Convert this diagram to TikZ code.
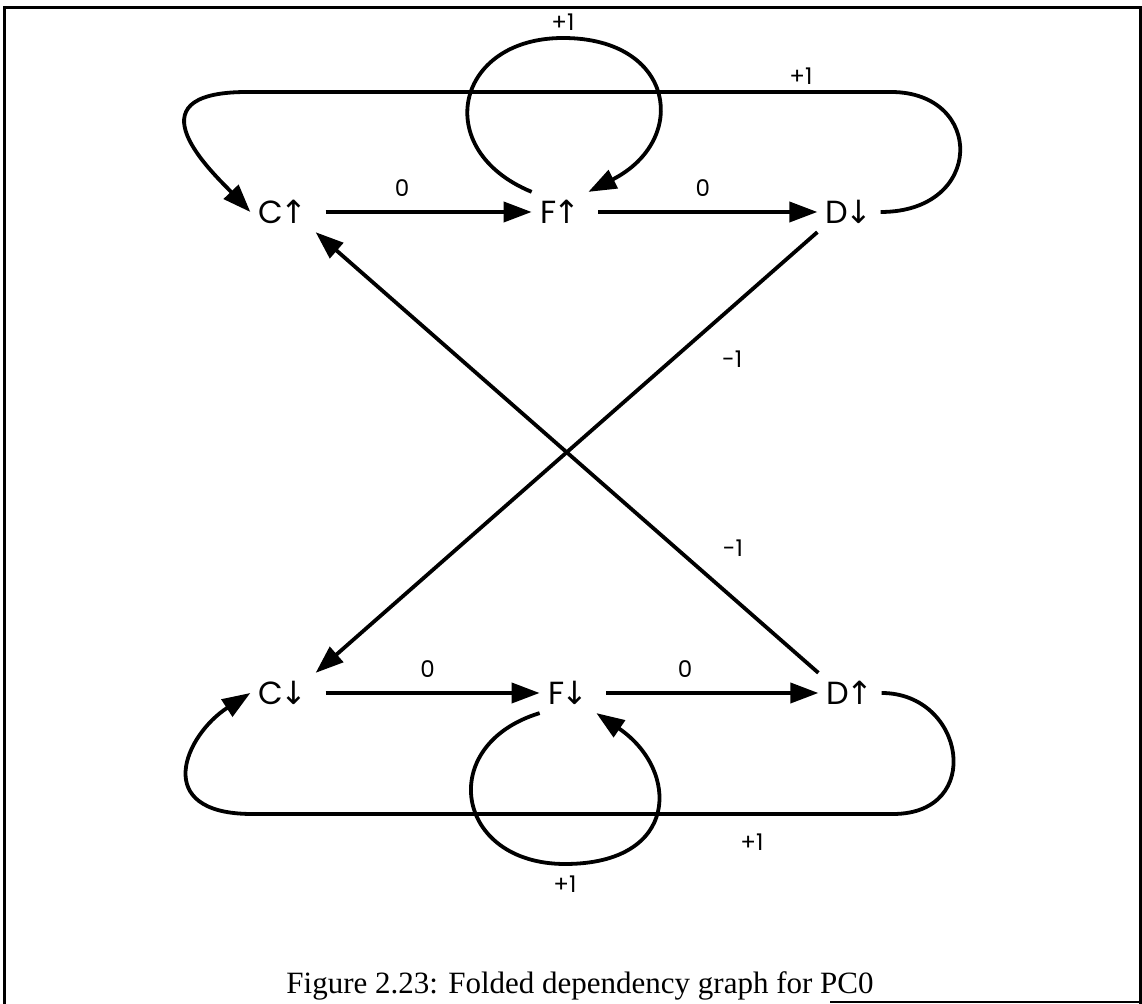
\documentclass[tikz,border=0pt]{standalone}
\usepackage{fontspec}
\setmainfont{Liberation Serif}
\newfontfamily\graphfont{Poppins}
\newfontfamily\arrowfont{DejaVu Sans}
\usepackage{tikz}
\usetikzlibrary{arrows.meta, positioning}
\newcommand{\uparr}{{\kern-1.5pt\arrowfont\char"2191}}
\newcommand{\dnarr}{{\kern-1.5pt\arrowfont\char"2193}}
\tikzset{
    vertex/.style={
        inner sep=4pt,
        font=\graphfont\fontsize{16}{19}\selectfont
    },
    weight/.style={
        inner sep=1pt,
        font=\graphfont\fontsize{11.5}{14}\selectfont
    },
    edge/.style={
        draw=black,
        line width=1.9pt,
        -{Triangle[length=14pt,width=10pt]}
    },
    frame/.style={
        draw=black,
        line width=1.5pt
    },
    caption/.style={
        font=\fontsize{15.5}{18}\selectfont
    }
}

\begin{document}
\begin{tikzpicture}[x=0.5pt, y=-0.5pt]
\useasboundingbox (0,0) rectangle (1142,1004);

% Upper row
\node[vertex] (Cu) at (283,212) {C\uparr};
\node[vertex] (Fu) at (560,212) {F\uparr};
\node[vertex] (Dd) at (849,212) {D\dnarr};

% Lower row
\node[vertex] (Cd) at (283,693) {C\dnarr};
\node[vertex] (Fd) at (568,693) {F\dnarr};
\node[vertex] (Du) at (850,693) {D\uparr};

% Straight edges
\draw[edge, shorten <=5pt] (Cu) -- node[weight, above=6pt, pos=0.4] {0} (Fu);
\draw[edge, shorten <=5pt] (Fu) -- node[weight, above=6pt, pos=0.5] {0} (Dd);
\draw[edge, shorten <=5pt] (Cd) -- node[weight, above=6pt, pos=0.5] {0} (Fd);
\draw[edge, shorten <=5pt] (Fd) -- node[weight, above=6pt, pos=0.4] {0} (Du);

% Crossing edges
\draw[edge] (Dd.south west) -- node[weight, pos=0.17, yshift=-26pt] {-1} (Cd.north east);
\draw[edge] (Du.north west) -- node[weight, pos=0.17, yshift=25pt] {-1} (Cu.south east);

% Self loops
\draw[edge] (Fu.north west) .. controls (430,150) and (455,38) .. (563,38)
    node[weight, above=2pt] {+1}
    .. controls (675,38) and (690,140) .. (Fu.north east);
\draw[edge] (Fd.south west) .. controls (435,745) and (455,864) .. (565,864)
    node[weight, below=4pt] {+1}
    .. controls (680,864) and (680,770) .. (Fd.south east);

% Wrap-around edges
\draw[edge] (Dd.east) .. controls (985,212) and (985,92) .. (891,92)
    -- node[weight, above=2pt, pos=0.14] {+1} (247,92)
    .. controls (125,92) and (215,175) .. (Cu.west);
\draw[edge] (Du.east) .. controls (965,693) and (985,814) .. (893,814)
    -- node[weight, below=8pt, pos=0.22] {+1} (252,814)
    .. controls (150,814) and (185,735) .. (Cd.west);

% Caption
\node[caption] (cap) at (580,986) {Figure 2.23: Folded dependency graph for PC0};

% Border
\draw[frame] (4,1004) -- (4,8) -- (1140,8) -- (1140,1004);
\draw[frame, line width=0.8pt] (830,1002) -- (1140,1002);

\end{tikzpicture}
\end{document}
